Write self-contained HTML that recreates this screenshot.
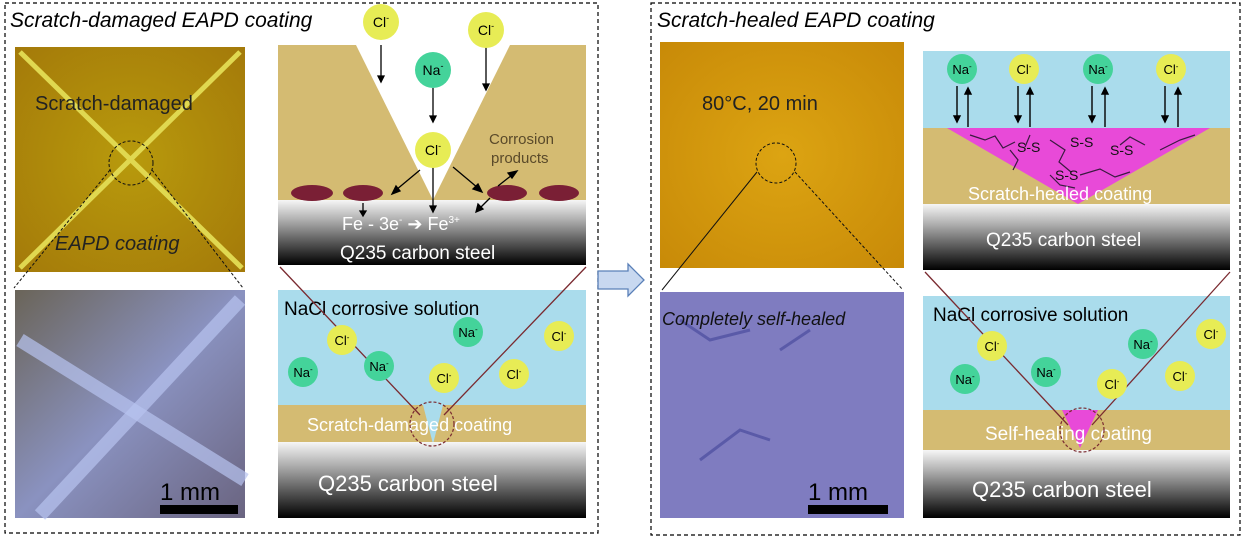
<!DOCTYPE html>
<html><head><meta charset="utf-8"><style>
body{margin:0;background:#fff;width:1245px;height:539px;overflow:hidden}
svg text{font-family:"Liberation Sans",Arial,sans-serif}
</style></head><body>
<svg width="1245" height="539" viewBox="0 0 1245 539" xmlns="http://www.w3.org/2000/svg">
<defs>
<linearGradient id="steel" x1="0" y1="0" x2="0" y2="1"><stop offset="0" stop-color="#f6f6f6"/><stop offset="0.3" stop-color="#b0b0b0"/><stop offset="1" stop-color="#000"/></linearGradient>
<radialGradient id="yel" cx="0.5" cy="0.5" r="0.7"><stop offset="0" stop-color="#b89a0c"/><stop offset="1" stop-color="#a47a0a"/></radialGradient>
<radialGradient id="yel2" cx="0.5" cy="0.5" r="0.7"><stop offset="0" stop-color="#dca412"/><stop offset="1" stop-color="#c88a08"/></radialGradient>
<linearGradient id="blu" x1="0" y1="0" x2="1" y2="1"><stop offset="0" stop-color="#6a6458"/><stop offset="0.5" stop-color="#8a92c0"/><stop offset="1" stop-color="#6a6480"/></linearGradient>
</defs>
<rect x="5" y="3" width="593" height="530" fill="none" stroke="#000" stroke-dasharray="4,3" stroke-width="1.2"/>
<rect x="651" y="3" width="589" height="532" fill="none" stroke="#000" stroke-dasharray="4,3" stroke-width="1.2"/>
<text x="10" y="27" font-size="21" font-style="italic">Scratch-damaged EAPD coating</text>
<text x="657" y="27" font-size="21" font-style="italic">Scratch-healed EAPD coating</text>

<rect x="15" y="47" width="230" height="225" fill="url(#yel)"/>
<line x1="20" y1="52" x2="242" y2="268" stroke="#e0d850" stroke-width="5"/>
<line x1="240" y1="52" x2="20" y2="268" stroke="#e0d850" stroke-width="5"/>
<text x="35" y="110" font-size="20" fill="#222">Scratch-damaged</text>
<text x="55" y="250" font-size="20" font-style="italic" fill="#222">EAPD coating</text>
<circle cx="131" cy="163" r="22" fill="none" stroke="#111" stroke-dasharray="3,2"/>
<line x1="110" y1="170" x2="14" y2="288" stroke="#111" stroke-dasharray="3,2"/>
<line x1="152" y1="170" x2="243" y2="288" stroke="#111" stroke-dasharray="3,2"/>
<rect x="15" y="290" width="230" height="228" fill="url(#blu)"/>
<line x1="20" y1="340" x2="245" y2="480" stroke="#b8c4f0" stroke-width="14" opacity="0.7"/>
<line x1="240" y1="300" x2="40" y2="515" stroke="#b8c4f0" stroke-width="14" opacity="0.7"/>
<text x="160" y="500" font-size="24" fill="#000">1 mm</text>
<rect x="160" y="505" width="78" height="9" fill="#000"/>

<rect x="278" y="45" width="308" height="155" fill="#d4bb72"/>
<polygon points="356,45 510,45 433,200" fill="#fff"/>
<rect x="278" y="200" width="308" height="65" fill="url(#steel)"/>
<ellipse cx="312" cy="193" rx="21" ry="8" fill="#7a1f35"/>
<ellipse cx="363" cy="193" rx="20" ry="8" fill="#7a1f35"/>
<ellipse cx="507" cy="193" rx="20" ry="8" fill="#7a1f35"/>
<ellipse cx="559" cy="193" rx="20" ry="8" fill="#7a1f35"/>
<text x="489" y="144" font-size="15" fill="#5a4a2a">Corrosion</text>
<text x="491" y="163" font-size="15" fill="#5a4a2a">products</text>
<text x="342" y="230" font-size="18" fill="#fff">Fe - 3e<tspan font-size="10" dy="-7">-</tspan><tspan dy="7"> ➔ Fe</tspan><tspan font-size="10" dy="-7">3+</tspan></text>
<text x="340" y="259" font-size="19" fill="#fff">Q235 carbon steel</text>
<g stroke="#000" stroke-width="1.3" fill="#000">
<line x1="381" y1="45" x2="381" y2="78"/><polygon points="378,76 384,76 381,82"/>
<line x1="486" y1="45" x2="486" y2="86"/><polygon points="483,84 489,84 486,90"/>
<line x1="433" y1="88" x2="433" y2="118"/><polygon points="430,116 436,116 433,122"/>
<line x1="433" y1="165" x2="433" y2="208"/><polygon points="430,206 436,206 433,212"/>
<line x1="420" y1="170" x2="396" y2="190"/><polygon points="392,194 396,186 400,191"/>
<line x1="453" y1="167" x2="478" y2="188"/><polygon points="482,192 473,189 478,184"/>
<line x1="363" y1="203" x2="363" y2="212"/><polygon points="360,211 366,211 363,216"/>
<line x1="498" y1="186" x2="512" y2="175"/><polygon points="517,171 508,173 512,178"/>
<line x1="490" y1="198" x2="480" y2="208"/><polygon points="476,212 478,204 483,209"/>
</g>
<circle cx="381" cy="22" r="18" fill="#e7ec55"/><text x="381" y="27" font-size="14" text-anchor="middle">Cl<tspan font-size="9" dy="-6">-</tspan></text>
<circle cx="486" cy="30" r="18" fill="#e7ec55"/><text x="486" y="35" font-size="14" text-anchor="middle">Cl<tspan font-size="9" dy="-6">-</tspan></text>
<circle cx="433" cy="70" r="18" fill="#44d39a"/><text x="433" y="75" font-size="14" text-anchor="middle">Na<tspan font-size="9" dy="-6">-</tspan></text>
<circle cx="433" cy="150" r="18" fill="#e7ec55"/><text x="433" y="155" font-size="14" text-anchor="middle">Cl<tspan font-size="9" dy="-6">-</tspan></text>

<rect x="278" y="290" width="308" height="115" fill="#aadcec"/>
<rect x="278" y="405" width="308" height="37" fill="#d4bb72"/>
<polygon points="423,405 443,405 433,444" fill="#aadcec"/>
<rect x="278" y="442" width="308" height="76" fill="url(#steel)"/>
<text x="284" y="315" font-size="19">NaCl corrosive solution</text>
<text x="307" y="431" font-size="18" fill="#fff">Scratch-damaged coating</text>
<text x="318" y="491" font-size="22" fill="#fff">Q235 carbon steel</text>
<line x1="280" y1="267" x2="420" y2="415" stroke="#7a2a30" stroke-width="1.3"/>
<line x1="586" y1="267" x2="444" y2="415" stroke="#7a2a30" stroke-width="1.3"/>
<circle cx="432" cy="424" r="22" fill="none" stroke="#7a2a30" stroke-dasharray="3,2" stroke-width="1.2"/>
<g font-size="13" text-anchor="middle">
<circle cx="342" cy="340" r="15" fill="#e7ec55"/><text x="342" y="345">Cl<tspan font-size="8" dy="-5">-</tspan></text>
<circle cx="303" cy="372" r="15" fill="#44d39a"/><text x="303" y="377">Na<tspan font-size="8" dy="-5">-</tspan></text>
<circle cx="379" cy="366" r="15" fill="#44d39a"/><text x="379" y="371">Na<tspan font-size="8" dy="-5">-</tspan></text>
<circle cx="468" cy="332" r="15" fill="#44d39a"/><text x="468" y="337">Na<tspan font-size="8" dy="-5">-</tspan></text>
<circle cx="444" cy="378" r="15" fill="#e7ec55"/><text x="444" y="383">Cl<tspan font-size="8" dy="-5">-</tspan></text>
<circle cx="514" cy="374" r="15" fill="#e7ec55"/><text x="514" y="379">Cl<tspan font-size="8" dy="-5">-</tspan></text>
<circle cx="559" cy="336" r="15" fill="#e7ec55"/><text x="559" y="341">Cl<tspan font-size="8" dy="-5">-</tspan></text>
</g>

<polygon points="598,271 628,271 628,264 644,280 628,296 628,289 598,289" fill="#c8d8f0" stroke="#5a80b8" stroke-width="1.3"/>

<rect x="660" y="42" width="244" height="226" fill="url(#yel2)"/>
<text x="702" y="110" font-size="20" fill="#222">80°C, 20 min</text>
<circle cx="776" cy="163" r="20" fill="none" stroke="#111" stroke-dasharray="3,2"/>
<line x1="757" y1="172" x2="662" y2="290" stroke="#111"/>
<line x1="795" y1="172" x2="903" y2="290" stroke="#111" stroke-dasharray="3,2"/>
<rect x="660" y="292" width="244" height="226" fill="#7f7cc0"/>
<path d="M680,320 l30,20 l40,-10 M700,460 l40,-30 l30,10 M780,350 l30,-20" stroke="#5a5aa8" stroke-width="3" fill="none"/>
<text x="662" y="325" font-size="18" font-style="italic" fill="#111">Completely self-healed</text>
<text x="808" y="500" font-size="24" fill="#000">1 mm</text>
<rect x="808" y="505" width="80" height="9" fill="#000"/>

<rect x="923" y="51" width="307" height="77" fill="#aadcec"/>
<rect x="923" y="128" width="307" height="76" fill="#d4bb72"/>
<polygon points="947,128 1210,128 1078,204" fill="#e84ad8"/>
<g stroke="#3a1a40" stroke-width="1.2" fill="none">
<path d="M970,135 l15,5 l10,-4 l8,12 l12,-6 M1010,150 l8,10 l-5,10 M1050,140 l15,10 l-6,12 l12,10 M1080,175 l20,-6 l15,8 l15,-5 M1120,145 l10,-8 l15,8 M1160,150 l20,-10 l15,-5 M1050,175 l10,10 l15,3 M1030,135 l-5,12"/>
</g>
<g font-size="14" fill="#111">
<text x="1017" y="152">S-S</text><text x="1070" y="147">S-S</text><text x="1110" y="155">S-S</text><text x="1055" y="180">S-S</text>
</g>
<text x="968" y="200" font-size="18" fill="#fff">Scratch-healed coating</text>
<rect x="923" y="204" width="307" height="66" fill="url(#steel)"/>
<text x="986" y="246" font-size="19" fill="#fff">Q235 carbon steel</text>
<g stroke="#000" stroke-width="1.4" fill="#000">
<line x1="957" y1="86" x2="957" y2="118"/><polygon points="954,116 960,116 957,122"/>
<line x1="968" y1="92" x2="968" y2="127"/><polygon points="965,94 971,94 968,88"/>
<line x1="1018" y1="86" x2="1018" y2="118"/><polygon points="1015,116 1021,116 1018,122"/>
<line x1="1030" y1="92" x2="1030" y2="127"/><polygon points="1027,94 1033,94 1030,88"/>
<line x1="1092" y1="86" x2="1092" y2="118"/><polygon points="1089,116 1095,116 1092,122"/>
<line x1="1105" y1="92" x2="1105" y2="127"/><polygon points="1102,94 1108,94 1105,88"/>
<line x1="1165" y1="86" x2="1165" y2="118"/><polygon points="1162,116 1168,116 1165,122"/>
<line x1="1178" y1="92" x2="1178" y2="127"/><polygon points="1175,94 1181,94 1178,88"/>
</g>
<g font-size="13" text-anchor="middle">
<circle cx="962" cy="69" r="15" fill="#44d39a"/><text x="962" y="74">Na<tspan font-size="8" dy="-5">-</tspan></text>
<circle cx="1024" cy="69" r="15" fill="#e7ec55"/><text x="1024" y="74">Cl<tspan font-size="8" dy="-5">-</tspan></text>
<circle cx="1098" cy="69" r="15" fill="#44d39a"/><text x="1098" y="74">Na<tspan font-size="8" dy="-5">-</tspan></text>
<circle cx="1171" cy="69" r="15" fill="#e7ec55"/><text x="1171" y="74">Cl<tspan font-size="8" dy="-5">-</tspan></text>
</g>

<rect x="923" y="296" width="307" height="114" fill="#aadcec"/>
<rect x="923" y="410" width="307" height="40" fill="#d4bb72"/>
<polygon points="1062,410 1098,410 1080,448" fill="#e84ad8"/>
<rect x="923" y="450" width="307" height="68" fill="url(#steel)"/>
<text x="933" y="321" font-size="19">NaCl corrosive solution</text>
<text x="985" y="440" font-size="19" fill="#fff">Self-healing coating</text>
<text x="972" y="497" font-size="22" fill="#fff">Q235 carbon steel</text>
<line x1="925" y1="272" x2="1068" y2="425" stroke="#7a2a30" stroke-width="1.3"/>
<line x1="1230" y1="272" x2="1092" y2="425" stroke="#7a2a30" stroke-width="1.3"/>
<circle cx="1082" cy="430" r="22" fill="none" stroke="#7a2a30" stroke-dasharray="3,2" stroke-width="1.2"/>
<g font-size="13" text-anchor="middle">
<circle cx="992" cy="346" r="15" fill="#e7ec55"/><text x="992" y="351">Cl<tspan font-size="8" dy="-5">-</tspan></text>
<circle cx="965" cy="379" r="15" fill="#44d39a"/><text x="965" y="384">Na<tspan font-size="8" dy="-5">-</tspan></text>
<circle cx="1046" cy="372" r="15" fill="#44d39a"/><text x="1046" y="377">Na<tspan font-size="8" dy="-5">-</tspan></text>
<circle cx="1143" cy="344" r="15" fill="#44d39a"/><text x="1143" y="349">Na<tspan font-size="8" dy="-5">-</tspan></text>
<circle cx="1112" cy="384" r="15" fill="#e7ec55"/><text x="1112" y="389">Cl<tspan font-size="8" dy="-5">-</tspan></text>
<circle cx="1180" cy="376" r="15" fill="#e7ec55"/><text x="1180" y="381">Cl<tspan font-size="8" dy="-5">-</tspan></text>
<circle cx="1211" cy="334" r="15" fill="#e7ec55"/><text x="1211" y="339">Cl<tspan font-size="8" dy="-5">-</tspan></text>
</g>
</svg>
</body></html>
